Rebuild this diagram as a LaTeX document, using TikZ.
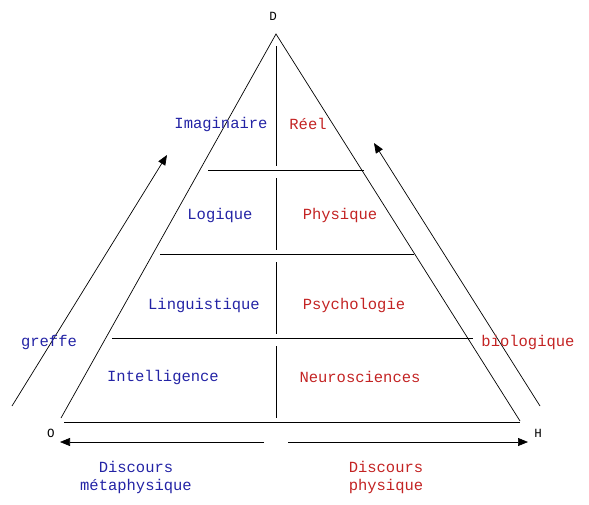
\documentclass[tikz,border=0pt]{standalone}
\usepackage{fontspec}
\setmonofont{Liberation Mono}
\usetikzlibrary{arrows.meta,positioning}
\definecolor{bleu}{RGB}{35,35,165}
\definecolor{rouge}{RGB}{195,35,35}

\begin{document}
\begin{tikzpicture}[x=1pt, y=-1pt,
    lbl/.style={font=\ttfamily\fontsize{15.5}{18}\selectfont, inner sep=1pt, align=center},
    gauche/.style={lbl, text=bleu},
    droite/.style={lbl, text=rouge},
    sommet/.style={font=\ttfamily\fontsize{12.5}{14}\selectfont, inner sep=1pt},
    trait/.style={line width=0.7pt},
    arrow/.style={-{Triangle[length=10pt, width=8pt]}, line width=0.7pt},
]
\useasboundingbox (0,0) rectangle (589,504);
% sommets
\coordinate (d) at (276,34);
\coordinate (o) at (61,418);
\coordinate (h) at (520,421);
\coordinate (ob) at (64,422);
\coordinate (hb) at (520,422);
\node[sommet] (dlab) at (273,16) {D};
\node[sommet] (olab) at (51,433) {O};
\node[sommet] (hlab) at (538,433) {H};
\draw[trait] (o) -- (d) -- (h);
\draw[trait] (ob) -- (hb);
% niveaux
\foreach \y/\xa/\xb in {170/208/364, 254/160/414, 338/112/473}
  \draw[trait] (\xa,\y) -- (\xb,\y);
\foreach \ya/\yb in {46/166, 178/250, 262/334, 346/418}
  \draw[trait] (276,\ya) -- (276,\yb);
\node[gauche] (imag) at (221,124) {Imaginaire};
\node[droite] (reel) at (308,124) {Réel};
\node[gauche] (logi) at (220,215) {Logique};
\node[droite] (phys) at (340,215) {Physique};
\node[gauche] (ling) at (204,305) {Linguistique};
\node[droite] (psy) at (354,305) {Psychologie};
\node[gauche] (intel) at (163,377) {Intelligence};
\node[droite] (neuro) at (360,377) {Neurosciences};
% fleches laterales
\coordinate (ga) at (12,406);
\coordinate (gb) at (167,155);
\coordinate (ba) at (540,406);
\coordinate (bb) at (374,143);
\draw[arrow] (ga) -- (gb);
\draw[arrow] (ba) -- (bb);
\node[gauche] (greffe) at (49,342) {greffe};
\node[droite] (bio) at (528,342) {biologique};
% discours
\coordinate (ma) at (264,442);
\coordinate (mb) at (60,442);
\coordinate (pa) at (288,442);
\coordinate (pb) at (528,442);
\draw[arrow] (ma) -- (mb);
\draw[arrow] (pa) -- (pb);
\node[gauche] (meta) at (136,477) {Discours\\métaphysique};
\node[droite] (dphys) at (386,477) {Discours\\physique};
\end{tikzpicture}
\end{document}
